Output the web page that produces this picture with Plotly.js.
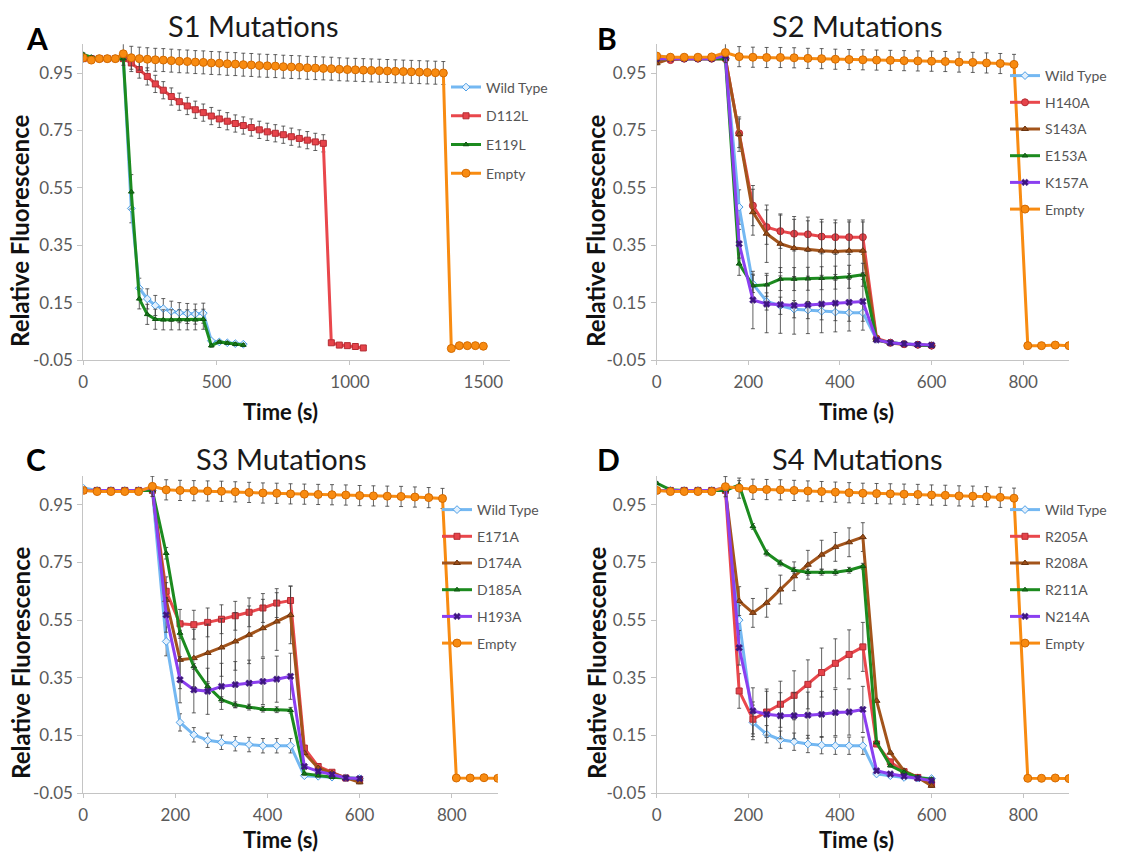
<!DOCTYPE html>
<html>
<head>
<meta charset="utf-8">
<script src="https://cdn.plot.ly/plotly-3.0.1.min.js"></script>
<style>html,body{margin:0;padding:0;background:#fff}#chart{width:1126px;height:854px}</style>
</head>
<body>
<div id="chart"></div>
<script>
// ---------- DATA ----------
const yTickVals = [-0.05, 0.15, 0.35, 0.55, 0.75, 0.95];
const yTickText = ['-0.05', '0.15', '0.35', '0.55', '0.75', '0.95'];
const xTicksA = [0, 500, 1000, 1500];
const xTicksBCD = [0, 200, 400, 600, 800];

const panelTitles = ['S1 Mutations', 'S2 Mutations', 'S3 Mutations', 'S4 Mutations'];
const panelLetters = ['A', 'B', 'C', 'D'];
const xTitle = 'Time (s)';
const yTitle = 'Relative Fluorescence';

// time points (s)
const tA_short = [0,30,60,90,120,150,180,210,240,270,300,330,360,390,420,450,480,510,540,570,600];
const tA_D112L = [0,30,60,90,120,150,180,210,240,270,300,330,360,390,420,450,480,510,540,570,600,630,660,690,720,750,780,810,840,870,900,930,960,990,1020,1050];
const tA_empty = [0,30,60,90,120,150,180,210,240,270,300,330,360,390,420,450,480,510,540,570,600,630,660,690,720,750,780,810,840,870,900,930,960,990,1020,1050,1080,1110,1140,1170,1200,1230,1260,1290,1320,1350,1380,1410,1440,1470,1500];
const t600 = [0,30,60,90,120,150,180,210,240,270,300,330,360,390,420,450,480,510,540,570,600];
const t900 = [0,30,60,90,120,150,180,210,240,270,300,330,360,390,420,450,480,510,540,570,600,630,660,690,720,750,780,810,840,870,900];

// Panel A : S1
const A_names = ['Wild Type', 'D112L', 'E119L', 'Empty'];
const A_WT     = [1.0,1.0,1.0,1.0,1.0,1.0,0.478,0.20,0.163,0.14,0.129,0.12,0.115,0.112,0.11,0.113,0.017,0.013,0.01,0.007,0.005];
const A_WT_err = [0.005,0.005,0.005,0.005,0.005,0.005,0.05,0.035,0.035,0.035,0.035,0.035,0.035,0.035,0.035,0.035,0.005,0.005,0.005,0.005,0.005];
const A_D112L  = [1.0,1.0,1.0,1.0,1.0,1.0,0.985,0.962,0.938,0.912,0.89,0.868,0.85,0.835,0.822,0.812,0.80,0.79,0.782,0.774,0.767,0.76,0.752,0.745,0.74,0.735,0.728,0.722,0.716,0.71,0.705,0.01,0.002,0.0,-0.003,-0.008];
const A_D112L_err = [0.005,0.005,0.005,0.005,0.005,0.005,0.03,0.03,0.03,0.03,0.03,0.03,0.03,0.03,0.03,0.03,0.03,0.03,0.03,0.03,0.03,0.03,0.03,0.03,0.03,0.03,0.03,0.03,0.03,0.03,0.03,0.005,0.005,0.005,0.005,0.005];
const A_E119L  = [1.015,1.005,1.0,1.0,1.0,1.0,0.536,0.163,0.109,0.092,0.09,0.09,0.09,0.09,0.09,0.092,0.0,0.013,0.009,0.005,0.002];
const A_E119L_err = [0.005,0.005,0.005,0.005,0.005,0.005,0.06,0.035,0.035,0.035,0.035,0.035,0.035,0.035,0.035,0.035,0.005,0.005,0.005,0.005,0.005];
const A_Empty  = [1.003,0.995,1.0,1.0,1.0,1.017,1.003,1.0,0.998,0.996,0.995,0.993,0.991,0.99,0.988,0.987,0.985,0.984,0.982,0.981,0.979,0.978,0.976,0.975,0.974,0.972,0.971,0.97,0.968,0.967,0.966,0.965,0.963,0.962,0.961,0.96,0.959,0.958,0.957,0.956,0.955,0.954,0.953,0.952,0.951,0.95,-0.01,0.0,0.0,0.0,-0.002];
const A_Empty_err = [0.005,0.005,0.005,0.005,0.005,0.04,0.04,0.04,0.04,0.04,0.04,0.04,0.04,0.04,0.04,0.04,0.04,0.04,0.04,0.04,0.04,0.04,0.04,0.04,0.04,0.04,0.04,0.04,0.04,0.04,0.04,0.04,0.04,0.04,0.04,0.04,0.04,0.04,0.04,0.04,0.04,0.04,0.04,0.04,0.04,0.04,0.005,0.005,0.005,0.005,0.005];

// Panel B : S2
const B_names = ['Wild Type', 'H140A', 'S143A', 'E153A', 'K157A', 'Empty'];
const B_WT     = [1.01,1.005,1.0,1.0,1.0,1.0,0.483,0.215,0.154,0.139,0.127,0.124,0.12,0.117,0.115,0.115,0.022,0.01,0.006,0.003,0.0];
const B_WT_err = [0.005,0.005,0.005,0.005,0.005,0.005,0.06,0.03,0.03,0.03,0.03,0.03,0.03,0.03,0.03,0.03,0.005,0.005,0.005,0.005,0.005];
const B_H140A  = [1.0,0.995,1.0,1.0,1.0,1.0,0.74,0.488,0.413,0.399,0.39,0.388,0.38,0.378,0.378,0.378,0.025,0.01,0.005,0.003,0.0];
const B_H140A_err = [0.005,0.005,0.005,0.005,0.005,0.005,0.05,0.07,0.06,0.06,0.06,0.06,0.06,0.06,0.06,0.06,0.005,0.005,0.005,0.005,0.005];
const B_S143A  = [0.984,1.0,1.0,1.0,1.0,1.0,0.737,0.465,0.39,0.355,0.34,0.335,0.331,0.328,0.331,0.331,0.02,0.008,0.005,0.003,0.0];
const B_S143A_err = [0.005,0.005,0.005,0.005,0.005,0.005,0.06,0.08,0.1,0.1,0.1,0.1,0.1,0.1,0.1,0.1,0.005,0.005,0.005,0.005,0.005];
const B_E153A  = [1.0,1.0,1.0,1.0,1.0,1.0,0.285,0.209,0.212,0.232,0.232,0.233,0.235,0.237,0.24,0.247,0.02,0.01,0.006,0.003,0.0];
const B_E153A_err = [0.005,0.005,0.005,0.005,0.005,0.005,0.04,0.04,0.04,0.04,0.04,0.04,0.04,0.04,0.04,0.04,0.005,0.005,0.005,0.005,0.005];
const B_K157A  = [1.0,1.0,1.0,1.0,1.0,1.01,0.355,0.159,0.145,0.143,0.14,0.142,0.145,0.148,0.151,0.154,0.02,0.01,0.006,0.004,0.002];
const B_K157A_err = [0.005,0.005,0.005,0.005,0.005,0.005,0.05,0.1,0.1,0.1,0.1,0.1,0.1,0.1,0.1,0.1,0.005,0.005,0.005,0.005,0.005];
const B_Empty  = [1.009,1.005,1.005,1.005,1.006,1.021,1.007,1.005,1.004,1.004,1.003,1.001,1.0,0.998,0.997,0.996,0.995,0.994,0.993,0.992,0.991,0.99,0.988,0.987,0.985,0.983,0.98,0.0,0.0,0.002,0.0];
const B_Empty_err = [0.005,0.005,0.005,0.005,0.005,0.035,0.035,0.035,0.035,0.035,0.035,0.035,0.035,0.035,0.035,0.035,0.035,0.035,0.035,0.035,0.035,0.035,0.035,0.035,0.035,0.035,0.035,0.005,0.005,0.005,0.005];

// Panel C : S3
const C_names = ['Wild Type', 'E171A', 'D174A', 'D185A', 'H193A', 'Empty'];
const C_WT     = [1.008,1.0,1.0,1.0,1.0,1.0,0.476,0.195,0.152,0.133,0.126,0.121,0.118,0.114,0.114,0.114,0.01,0.008,0.005,0.002,0.0];
const C_WT_err = [0.005,0.005,0.005,0.005,0.005,0.005,0.05,0.03,0.025,0.025,0.025,0.025,0.025,0.025,0.025,0.025,0.005,0.005,0.005,0.005,0.005];
const C_E171A  = [1.0,1.0,1.0,1.0,1.0,1.0,0.65,0.537,0.534,0.542,0.553,0.565,0.577,0.592,0.609,0.618,0.106,0.042,0.022,0.002,-0.004];
const C_E171A_err = [0.005,0.005,0.005,0.005,0.005,0.005,0.05,0.05,0.05,0.05,0.05,0.05,0.05,0.05,0.05,0.05,0.005,0.005,0.005,0.005,0.005];
const C_D174A  = [1.0,1.0,1.0,1.0,1.0,1.0,0.62,0.412,0.418,0.436,0.455,0.476,0.499,0.522,0.545,0.568,0.089,0.037,0.019,0.002,-0.013];
const C_D174A_err = [0.005,0.005,0.005,0.005,0.005,0.005,0.06,0.1,0.1,0.1,0.1,0.1,0.1,0.1,0.1,0.1,0.005,0.005,0.005,0.005,0.005];
const C_D185A  = [1.0,1.0,1.0,1.0,1.0,1.0,0.782,0.505,0.389,0.32,0.274,0.256,0.248,0.241,0.239,0.237,0.017,0.01,0.005,0.002,0.0];
const C_D185A_err = [0.005,0.005,0.005,0.005,0.005,0.005,0.02,0.01,0.01,0.01,0.01,0.01,0.01,0.01,0.01,0.01,0.005,0.005,0.005,0.005,0.005];
const C_H193A  = [1.0,1.0,1.0,1.0,1.0,1.01,0.568,0.343,0.308,0.303,0.32,0.326,0.331,0.337,0.345,0.355,0.042,0.025,0.014,0.002,0.0];
const C_H193A_err = [0.005,0.005,0.005,0.005,0.005,0.005,0.06,0.08,0.08,0.08,0.08,0.08,0.08,0.08,0.08,0.08,0.005,0.005,0.005,0.005,0.005];
const C_Empty  = [1.0,0.996,0.996,0.996,0.996,1.014,1.002,1.0,0.999,0.998,0.997,0.995,0.993,0.991,0.99,0.988,0.987,0.986,0.985,0.984,0.982,0.981,0.98,0.979,0.977,0.975,0.972,0.002,0.002,0.003,0.001];
const C_Empty_err = [0.005,0.005,0.005,0.005,0.005,0.035,0.035,0.035,0.035,0.035,0.035,0.035,0.035,0.035,0.035,0.035,0.035,0.035,0.035,0.035,0.035,0.035,0.035,0.035,0.035,0.035,0.035,0.005,0.005,0.005,0.005];

// Panel D : S4
const D_names = ['Wild Type', 'R205A', 'R208A', 'R211A', 'N214A', 'Empty'];
const D_WT     = [1.0,1.0,1.0,1.0,1.0,1.0,0.55,0.195,0.154,0.135,0.128,0.12,0.116,0.114,0.114,0.114,0.016,0.01,0.004,0.002,0.0];
const D_WT_err = [0.005,0.005,0.005,0.005,0.005,0.005,0.05,0.06,0.03,0.03,0.03,0.03,0.03,0.03,0.03,0.03,0.005,0.005,0.005,0.005,0.005];
const D_R205A  = [1.0,1.0,1.0,1.0,1.0,1.0,0.304,0.206,0.231,0.258,0.289,0.327,0.368,0.40,0.431,0.457,0.12,0.058,0.024,0.004,-0.019];
const D_R205A_err = [0.005,0.005,0.005,0.005,0.005,0.005,0.06,0.06,0.08,0.08,0.085,0.085,0.085,0.085,0.085,0.085,0.005,0.005,0.005,0.005,0.005];
const D_R208A  = [1.0,1.0,1.0,1.0,1.0,1.0,0.616,0.575,0.61,0.656,0.702,0.742,0.777,0.804,0.82,0.838,0.27,0.09,0.027,0.004,-0.025];
const D_R208A_err = [0.005,0.005,0.005,0.005,0.005,0.005,0.05,0.05,0.05,0.05,0.05,0.05,0.05,0.05,0.05,0.05,0.005,0.005,0.005,0.005,0.005];
const D_R211A  = [1.025,1.002,1.0,1.0,1.0,1.0,1.019,0.875,0.783,0.748,0.723,0.716,0.716,0.716,0.723,0.737,0.125,0.045,0.022,0.004,-0.002];
const D_R211A_err = [0.005,0.005,0.005,0.005,0.005,0.005,0.015,0.01,0.01,0.01,0.01,0.01,0.01,0.01,0.01,0.01,0.005,0.005,0.005,0.005,0.005];
const D_N214A  = [1.0,1.0,1.0,1.0,1.0,1.01,0.454,0.235,0.223,0.218,0.218,0.22,0.223,0.229,0.231,0.24,0.027,0.016,0.008,0.001,-0.007];
const D_N214A_err = [0.005,0.005,0.005,0.005,0.005,0.005,0.06,0.08,0.08,0.08,0.08,0.08,0.08,0.08,0.08,0.08,0.005,0.005,0.005,0.005,0.005];
const D_Empty  = [1.0,0.996,0.996,0.996,0.996,1.013,1.008,1.004,1.003,1.002,1.0,0.998,0.996,0.994,0.992,0.99,0.989,0.988,0.987,0.986,0.984,0.983,0.981,0.98,0.978,0.976,0.973,0.001,0.001,0.002,0.0];
const D_Empty_err = [0.005,0.005,0.005,0.005,0.005,0.035,0.035,0.035,0.035,0.035,0.035,0.035,0.035,0.035,0.035,0.035,0.035,0.035,0.035,0.035,0.035,0.035,0.035,0.035,0.035,0.035,0.035,0.005,0.005,0.005,0.005];

// ---------- STYLES ----------
const FONT = 'Lato, "Open Sans", "DejaVu Sans", sans-serif';
const S = {
  wt:     {line:'#74B8F2', m:{symbol:'diamond', size:6, color:'#E2F0FD', line:{color:'#4E9FE6', width:1}}},
  red:    {line:'#E9474C', m:{symbol:'square', size:6, color:'#E6434A', line:{color:'#B32C33', width:1}}},
  redc:   {line:'#E9474C', m:{symbol:'circle', size:7, color:'#E6434A', line:{color:'#B32C33', width:1}}},
  brown:  {line:'#A3541B', m:{symbol:'triangle-up', size:6, color:'#9C4E17', line:{color:'#6A3410', width:1}}},
  green:  {line:'#1C8B1F', m:{symbol:'triangle-up', size:5, color:'#157A18', line:{color:'#0E5410', width:1}}},
  purple: {line:'#8B3FF0', m:{symbol:'x', size:6, color:'#3E1680', line:{color:'#3E1680', width:0.5}}},
  orange: {line:'#F88B11', m:{symbol:'circle', size:8, color:'#F88B11', line:{color:'#D46A00', width:1}}}
};

function tr(name, x, y, err, st, ax, leg) {
  return {
    type:'scatter', mode:'lines+markers', name:name, x:x, y:y,
    xaxis:'x'+ax, yaxis:'y'+ax, legend: leg, legendgroup: leg + name,
    line:{color:st.line, width:3},
    marker:st.m,
    error_y:{type:'data', array:err, visible:true, color:'#3a3a3a', thickness:0.8, width:2}
  };
}

const data = [
  tr(A_names[0], tA_short, A_WT, A_WT_err, S.wt, '', 'legend'),
  tr(A_names[1], tA_D112L, A_D112L, A_D112L_err, S.red, '', 'legend'),
  tr(A_names[2], tA_short, A_E119L, A_E119L_err, S.green, '', 'legend'),
  tr(A_names[3], tA_empty, A_Empty, A_Empty_err, S.orange, '', 'legend'),

  tr(B_names[0], t600, B_WT, B_WT_err, S.wt, '2', 'legend2'),
  tr(B_names[1], t600, B_H140A, B_H140A_err, S.redc, '2', 'legend2'),
  tr(B_names[2], t600, B_S143A, B_S143A_err, S.brown, '2', 'legend2'),
  tr(B_names[3], t600, B_E153A, B_E153A_err, S.green, '2', 'legend2'),
  tr(B_names[4], t600, B_K157A, B_K157A_err, S.purple, '2', 'legend2'),
  tr(B_names[5], t900, B_Empty, B_Empty_err, S.orange, '2', 'legend2'),

  tr(C_names[0], t600, C_WT, C_WT_err, S.wt, '3', 'legend3'),
  tr(C_names[1], t600, C_E171A, C_E171A_err, S.red, '3', 'legend3'),
  tr(C_names[2], t600, C_D174A, C_D174A_err, S.brown, '3', 'legend3'),
  tr(C_names[3], t600, C_D185A, C_D185A_err, S.green, '3', 'legend3'),
  tr(C_names[4], t600, C_H193A, C_H193A_err, S.purple, '3', 'legend3'),
  tr(C_names[5], t900, C_Empty, C_Empty_err, S.orange, '3', 'legend3'),

  tr(D_names[0], t600, D_WT, D_WT_err, S.wt, '4', 'legend4'),
  tr(D_names[1], t600, D_R205A, D_R205A_err, S.red, '4', 'legend4'),
  tr(D_names[2], t600, D_R208A, D_R208A_err, S.brown, '4', 'legend4'),
  tr(D_names[3], t600, D_R211A, D_R211A_err, S.green, '4', 'legend4'),
  tr(D_names[4], t600, D_N214A, D_N214A_err, S.purple, '4', 'legend4'),
  tr(D_names[5], t900, D_Empty, D_Empty_err, S.orange, '4', 'legend4')
];

// ---------- LAYOUT ----------
const W = 1126, H = 854;
const px = v => v / W;
const py = v => 1 - v / H;

function xax(x0, x1, range, ticks, anchor) {
  return {domain:[px(x0), px(x1)], range:range, anchor:anchor,
    tickvals:ticks, ticktext:ticks.map(String),
    showgrid:false, zeroline:false, showline:true, linecolor:'#c4c4c4', linewidth:1,
    ticks:'outside', ticklen:4, tickcolor:'#c4c4c4', ticklabelstandoff:3,
    tickfont:{family:FONT, size:17, color:'#5a5a5a'}, fixedrange:true};
}
function yax(top, bottom, anchor) {
  return {domain:[py(bottom), py(top)], range:[-0.05, 1.05], anchor:anchor,
    tickvals:yTickVals, ticktext:yTickText,
    showgrid:false, zeroline:false, showline:true, linecolor:'#c4c4c4', linewidth:1,
    ticks:'outside', ticklen:5, tickcolor:'#c4c4c4', ticklabelstandoff:1,
    tickfont:{family:FONT, size:17, color:'#5a5a5a'}, fixedrange:true};
}
function leg(xLeft, yTop, gap) {
  return {x:px(xLeft), y:py(yTop), xanchor:'left', yanchor:'top',
    bgcolor:'rgba(0,0,0,0)', borderwidth:0, traceorder:'grouped', tracegroupgap:gap,
    font:{family:FONT, size:14, color:'#555'}, itemwidth:30};
}

const ann = [];
function addText(text, x, y, size, bold, color, angle) {
  ann.push({text: bold ? '<b>'+text+'</b>' : text, x:px(x), y:py(y), xref:'paper', yref:'paper',
    xanchor:'center', yanchor:'middle', showarrow:false, textangle: angle || 0,
    font:{family:FONT, size:size, color:color}});
}
const titlePos = [[253,25],[857,25],[281,458],[857,458]];
const letterPos = [[37,38],[607,38],[36,459],[608,459]];
const xTitlePos = [[280,411],[856,411],[280,839],[856,839]];
const yTitlePos = [[20,231],[596,231],[20,663],[596,663]];
for (let i = 0; i < 4; i++) {
  addText(panelTitles[i], titlePos[i][0], titlePos[i][1], 29, false, '#1a1a1a');
  addText(panelLetters[i], letterPos[i][0], letterPos[i][1], 30, true, '#000');
  addText(xTitle, xTitlePos[i][0], xTitlePos[i][1], 22, true, '#111');
  addText(yTitle, yTitlePos[i][0], yTitlePos[i][1], 24, true, '#111', -90);
}

const layout = {
  width:W, height:H, margin:{l:0, r:0, t:0, b:0},
  paper_bgcolor:'#fff', plot_bgcolor:'rgba(0,0,0,0)',
  font:{family:FONT},
  xaxis: xax(83.3, 510, [0, 1600], xTicksA, 'y'),
  yaxis: yax(44.3, 360, 'x'),
  xaxis2: xax(656.7, 1069, [0, 900], xTicksBCD, 'y2'),
  yaxis2: yax(44.3, 360, 'x2'),
  xaxis3: xax(83.3, 497.8, [0, 900], xTicksBCD, 'y3'),
  yaxis3: yax(476, 793, 'x3'),
  xaxis4: xax(656.7, 1069, [0, 900], xTicksBCD, 'y4'),
  yaxis4: yax(476, 793, 'x4'),
  legend: leg(446, 71.5, 7.5),
  legend2: leg(1005, 60, 5.5),
  legend3: leg(437, 494, 5.5),
  legend4: leg(1005, 494, 5.5),
  annotations: ann,
  showlegend:true
};

Plotly.newPlot('chart', data, layout, {staticPlot:true, displayModeBar:false});
</script>
</body>
</html>
